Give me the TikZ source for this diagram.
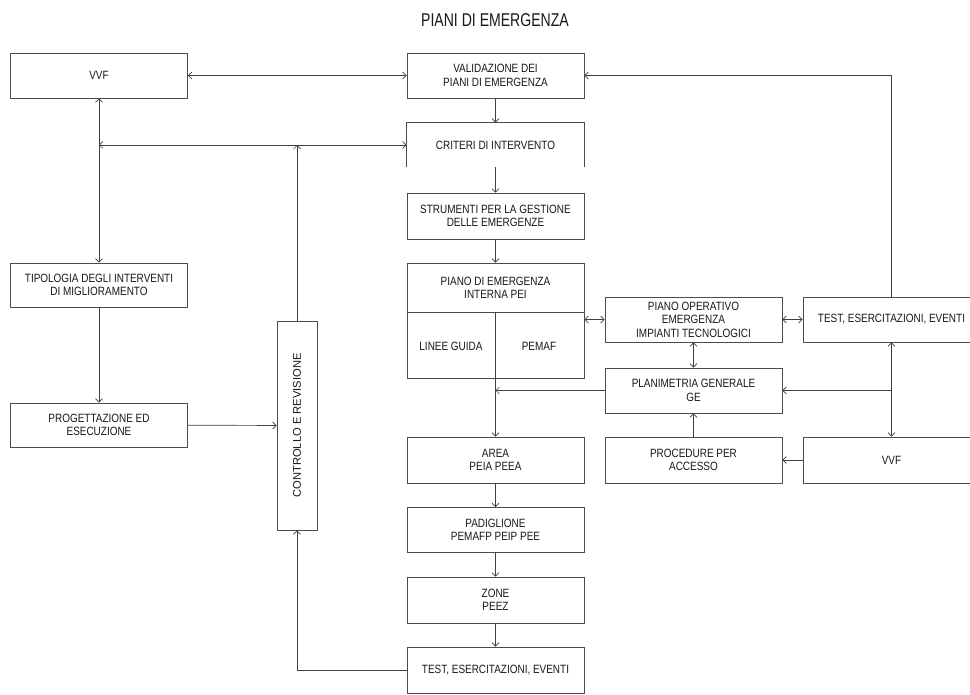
\documentclass[tikz,border=0pt]{standalone}
\usepackage{fontspec}
\setmainfont{Liberation Sans}
\newfontfamily\boxfont[FakeStretch=0.83]{Liberation Sans}
\newfontfamily\titlefont[FakeStretch=0.76]{Liberation Sans}
\usetikzlibrary{arrows.meta}

\begin{document}
\begin{tikzpicture}[x=1pt, y=-1pt,
    >={Straight Barb[length=3.5pt, width=7pt]},
    box/.style={draw=black!70, line width=0.8pt, minimum width=177, minimum height=45, inner sep=0pt,
        align=center, text=black!90, font=\boxfont\fontsize{12}{13.5}\selectfont},
    txt/.style={inner sep=0pt, align=center, text=black!90, font=\boxfont\fontsize{12}{13.5}\selectfont},
    link/.style={draw=black!75, line width=0.7pt}]
    \useasboundingbox (0,0) rectangle (970,695);
    \fill[white] (0,0) rectangle (970,695);
    \clip (0,0) rectangle (970,695);
    \node[txt, font=\titlefont\fontsize{18.5}{20}\selectfont] (title) at (495, 20) {PIANI DI EMERGENZA};
    \node[box] (vvfL) at (99, 75.5) {VVF};
    \node[box] (valid) at (495.5, 75.5) {VALIDAZIONE DEI\\PIANI DI EMERGENZA};
    \node[box, draw=none, minimum height=44] (criteri) at (495.5, 145) {CRITERI DI INTERVENTO};
    \draw[black!70, line width=0.8pt] (criteri.south west) |- (criteri.north east) -- (criteri.south east);
    \node[box, minimum height=46] (strum) at (495.5, 216) {STRUMENTI PER LA GESTIONE\\DELLE EMERGENZE};
    \node[box, minimum height=115] (piano) at (495.5, 320.5) {};
    \node[txt] (pianotxt) at (495.5, 288) {PIANO DI EMERGENZA\\INTERNA PEI};
    \coordinate (pdiv) at (495.5, 312);
    \draw[black!70, line width=0.8pt] (piano.west |- pdiv) -- (piano.east |- pdiv);
    \node[txt] (linee) at (451, 346) {LINEE GUIDA};
    \node[txt] (pemaf) at (539, 346) {PEMAF};
    \node[box] (pianoop) at (693.5, 319.5) {PIANO OPERATIVO\\EMERGENZA\\IMPIANTI TECNOLOGICI};
    \node[box] (testR) at (891.5, 319.5) {TEST, ESERCITAZIONI, EVENTI};
    \node[box] (planim) at (693.5, 390.5) {PLANIMETRIA GENERALE\\GE};
    \node[box, minimum height=46] (proced) at (693.5, 460) {PROCEDURE PER\\ACCESSO};
    \node[box, minimum height=46] (vvfR) at (891.5, 460) {VVF};
    \node[box, minimum height=46] (area) at (495.5, 460) {AREA\\PEIA PEEA};
    \node[box] (padig) at (495.5, 530) {PADIGLIONE\\PEMAFP PEIP PEE};
    \node[box, minimum height=46] (zone) at (495.5, 600) {ZONE\\PEEZ};
    \node[box, minimum height=46] (testB) at (495.5, 670) {TEST, ESERCITAZIONI, EVENTI};
    \node[box, minimum height=44] (tipol) at (99, 285) {TIPOLOGIA DEGLI INTERVENTI\\DI MIGLIORAMENTO};
    \node[box, minimum height=44] (progett) at (99, 425) {PROGETTAZIONE ED\\ESECUZIONE};
    \node[box, minimum width=40, minimum height=209] (controllo) at (297, 425.5) {};
    \node[txt, rotate=90, font=\fontsize{11.2}{13}\selectfont] (controllotxt) at (controllo) {CONTROLLO E REVISIONE};
    \draw[link, <->] (vvfL) -- (valid);
    \draw[link, ->] (valid) -- (criteri);
    \draw[link, ->] (criteri.south) -- (strum);
    \draw[link, ->] (strum) -- (piano);
    \draw[link, <->] (vvfL) -- (tipol);
    \draw[link, <->] (vvfL.south |- criteri.west) -- (criteri.west);
    \draw[link, ->] (controllo) -- (controllo.north |- criteri.west);
    \draw[link, ->] (tipol) -- (progett);
    \draw[link, ->] (progett) -- (controllo);
    \draw[link, ->] (testB) -| (controllo);
    \draw[link, ->] (pdiv) -- (area);
    \draw[link, ->] (area) -- (padig);
    \draw[link, ->] (padig) -- (zone);
    \draw[link, ->] (zone) -- (testB);
    \draw[link, ->] (planim) -- (planim.west -| pdiv);
    \draw[link, <->] (piano.east |- pianoop.west) -- (pianoop);
    \draw[link, <->] (pianoop) -- (testR);
    \draw[link, <->] (pianoop) -- (planim);
    \draw[link, ->] (proced) -- (planim);
    \draw[link, ->] (vvfR) -- (proced);
    \draw[link, <->] (testR) -- (vvfR);
    \draw[link, ->] (testR.south |- planim.east) -- (planim);
    \draw[link, ->] (testR) |- (valid);
\end{tikzpicture}
\end{document}
